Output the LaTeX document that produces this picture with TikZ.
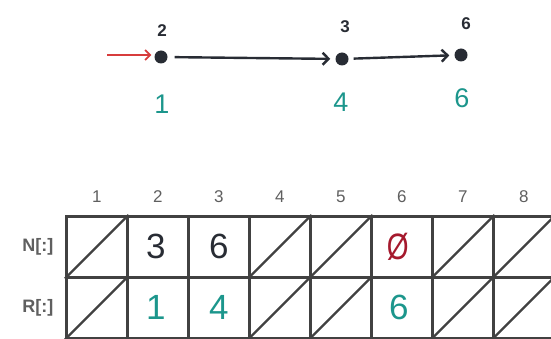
\documentclass[tikz,border=0pt]{standalone}
\usepackage{fontspec}
\setmainfont{Liberation Sans}
\usetikzlibrary{arrows.meta}

\definecolor{ink}{RGB}{40,44,52}
\definecolor{gridgray}{RGB}{65,65,65}
\definecolor{labelgray}{RGB}{95,95,95}
\definecolor{tealink}{RGB}{28,150,140}
\definecolor{redink}{RGB}{165,25,45}
\definecolor{arrowred}{RGB}{215,60,60}

\tikzset{
  vertex/.style={circle, fill=ink, inner sep=0pt, minimum width=11pt, minimum height=13pt},
  edge/.style={draw=ink, line width=2.4pt, -{Straight Barb[length=6pt,width=12pt]}},
  entry/.style={draw=arrowred, line width=1.8pt, -{Straight Barb[length=5pt,width=10pt]}},
  cell/.style={draw=gridgray, line width=2.6pt, minimum size=61pt, inner sep=0pt, anchor=north west},
  colnum/.style={text=labelgray, font=\fontsize{17}{17}\selectfont},
  rowname/.style={text=labelgray, font=\bfseries\fontsize{18}{18}\selectfont, anchor=east},
  idx/.style={text=ink, font=\bfseries\fontsize{17}{17}\selectfont},
  rank/.style={text=tealink, font=\fontsize{27}{27}\selectfont},
  hand/.style={font=\fontsize{35}{35}\selectfont},
}

\begin{document}
\begin{tikzpicture}[x=1pt, y=-1pt]
\useasboundingbox (0,0) rectangle (551,339);

% linked list on top
\node[vertex] (v1) at (161,57) {};
\node[vertex] (v2) at (342,59) {};
\node[vertex] (v3) at (461,55) {};

\node[idx] (i1) at (162,31) {2};
\node[idx] (i2) at (345,27) {3};
\node[idx] (i3) at (466,24) {6};

\node[rank] (r1) at (162,104) {1};
\node[rank] (r2) at (341,102) {4};
\node[rank] (r3) at (462,98) {6};

\coordinate (head) at (107,55);
\draw[entry] (head) -- ([xshift=-3pt]v1.west |- head);
\draw[edge, shorten <=7pt, shorten >=5pt] (v1) -- (v2);
\draw[edge, shorten <=5pt, shorten >=5pt] (v2) -- (v3);

% arrays N[:] and R[:]
\foreach \i in {1,...,8} {
  \node[cell] (n\i) at ({65+61*(\i-1)},215) {};
  \node[cell] (q\i) at ({65+61*(\i-1)},276) {};
  \node[colnum] (c\i) at (n\i.center |- 0,197) {\i};
}
\foreach \i in {1,4,5,7,8} {
  \draw[gridgray, line width=2.3pt] (n\i.south west) -- (n\i.north east);
  \draw[gridgray, line width=2.3pt] (q\i.south west) -- (q\i.north east);
}

\node[rowname] (nname) at ([xshift=-8pt]n1.west) {N[:]};
\node[rowname] (qname) at ([xshift=-8pt]q1.west) {R[:]};

\node[hand, text=ink] at ([xshift=-2pt]n2.center) {3};
\node[hand, text=ink] at (n3.center) {6};
\node[hand, text=redink] at ([xshift=-4pt]n6.center) {\scalebox{0.8}[1.05]{Ø}};
\node[hand, text=tealink] at ([xshift=-2pt]q2.center) {1};
\node[hand, text=tealink] at (q3.center) {4};
\node[hand, text=tealink] at ([xshift=-3pt]q6.center) {6};

\end{tikzpicture}
\end{document}
